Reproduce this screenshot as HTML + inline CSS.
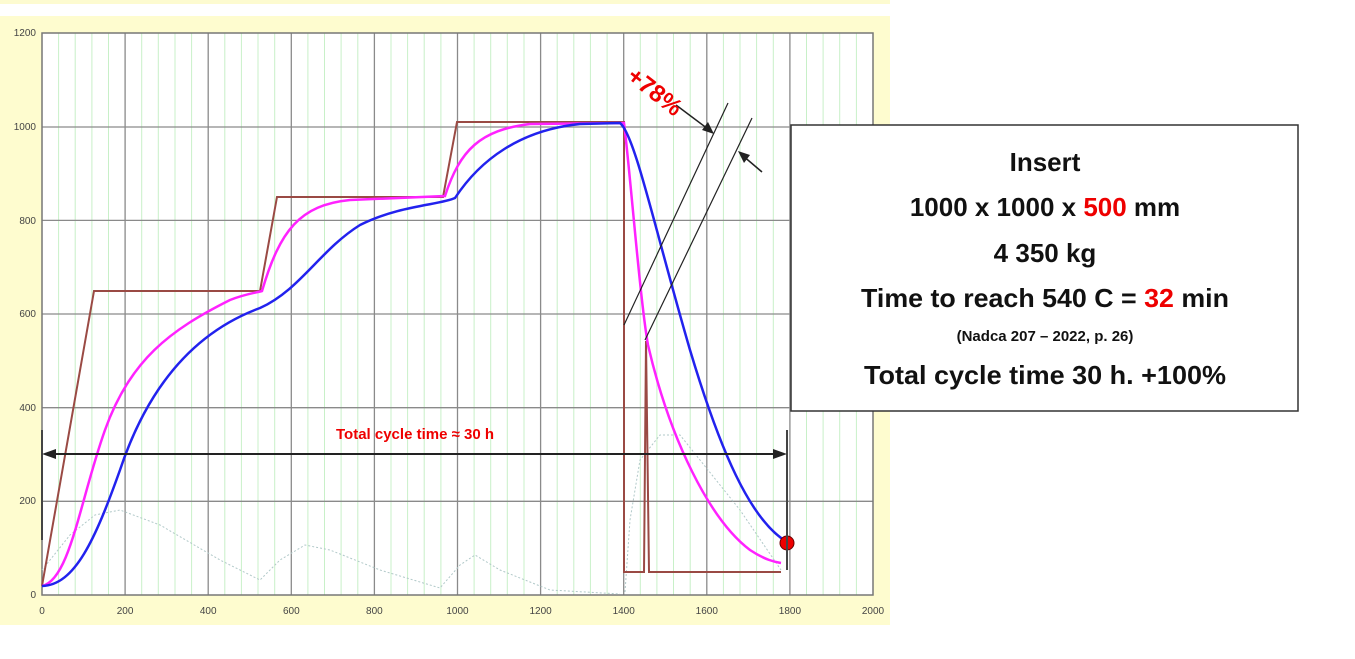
<!DOCTYPE html>
<html><head><meta charset="utf-8"><style>
body{margin:0;width:1355px;height:654px;background:#fff;overflow:hidden;font-family:"Liberation Sans",sans-serif}
</style></head><body>
<svg width="1355" height="654" xmlns="http://www.w3.org/2000/svg">
<rect x="0" y="0" width="890" height="4" fill="#fdfbd0"/>
<rect x="0" y="16" width="890" height="609" fill="#fefccf"/>
<rect x="42" y="33" width="831" height="562" fill="#fff"/>
<g stroke="#c8f0c8" stroke-width="1">
<line x1="58.6" y1="33" x2="58.6" y2="595"/><line x1="75.2" y1="33" x2="75.2" y2="595"/><line x1="91.9" y1="33" x2="91.9" y2="595"/><line x1="108.5" y1="33" x2="108.5" y2="595"/>
<line x1="141.7" y1="33" x2="141.7" y2="595"/><line x1="158.3" y1="33" x2="158.3" y2="595"/><line x1="175" y1="33" x2="175" y2="595"/><line x1="191.6" y1="33" x2="191.6" y2="595"/>
<line x1="224.8" y1="33" x2="224.8" y2="595"/><line x1="241.4" y1="33" x2="241.4" y2="595"/><line x1="258" y1="33" x2="258" y2="595"/><line x1="274.7" y1="33" x2="274.7" y2="595"/>
<line x1="307.9" y1="33" x2="307.9" y2="595"/><line x1="324.5" y1="33" x2="324.5" y2="595"/><line x1="341.1" y1="33" x2="341.1" y2="595"/><line x1="357.8" y1="33" x2="357.8" y2="595"/>
<line x1="391" y1="33" x2="391" y2="595"/><line x1="407.6" y1="33" x2="407.6" y2="595"/><line x1="424.2" y1="33" x2="424.2" y2="595"/><line x1="440.9" y1="33" x2="440.9" y2="595"/>
<line x1="474.1" y1="33" x2="474.1" y2="595"/><line x1="490.7" y1="33" x2="490.7" y2="595"/><line x1="507.3" y1="33" x2="507.3" y2="595"/><line x1="524" y1="33" x2="524" y2="595"/>
<line x1="557.2" y1="33" x2="557.2" y2="595"/><line x1="573.8" y1="33" x2="573.8" y2="595"/><line x1="590.4" y1="33" x2="590.4" y2="595"/><line x1="607.1" y1="33" x2="607.1" y2="595"/>
<line x1="640.3" y1="33" x2="640.3" y2="595"/><line x1="656.9" y1="33" x2="656.9" y2="595"/><line x1="673.5" y1="33" x2="673.5" y2="595"/><line x1="690.2" y1="33" x2="690.2" y2="595"/>
<line x1="723.4" y1="33" x2="723.4" y2="595"/><line x1="740" y1="33" x2="740" y2="595"/><line x1="756.6" y1="33" x2="756.6" y2="595"/><line x1="773.3" y1="33" x2="773.3" y2="595"/>
<line x1="806.5" y1="33" x2="806.5" y2="595"/><line x1="823.1" y1="33" x2="823.1" y2="595"/><line x1="839.7" y1="33" x2="839.7" y2="595"/><line x1="856.4" y1="33" x2="856.4" y2="595"/>
</g>
<g stroke="#8a8a8a" stroke-width="1.3">
<line x1="125.1" y1="33" x2="125.1" y2="595"/><line x1="208.2" y1="33" x2="208.2" y2="595"/><line x1="291.3" y1="33" x2="291.3" y2="595"/><line x1="374.4" y1="33" x2="374.4" y2="595"/><line x1="457.5" y1="33" x2="457.5" y2="595"/><line x1="540.6" y1="33" x2="540.6" y2="595"/><line x1="623.7" y1="33" x2="623.7" y2="595"/><line x1="706.8" y1="33" x2="706.8" y2="595"/><line x1="789.9" y1="33" x2="789.9" y2="595"/>
<line x1="42" y1="127" x2="873" y2="127"/><line x1="42" y1="220.4" x2="873" y2="220.4"/><line x1="42" y1="314" x2="873" y2="314"/><line x1="42" y1="407.7" x2="873" y2="407.7"/><line x1="42" y1="501.3" x2="873" y2="501.3"/>
</g>
<g font-size="10" fill="#444" text-anchor="end">
<text x="36" y="36">1200</text><text x="36" y="130">1000</text><text x="36" y="224">800</text><text x="36" y="317">600</text><text x="36" y="411">400</text><text x="36" y="504">200</text><text x="36" y="598">0</text>
</g>
<g font-size="10" fill="#444" text-anchor="middle">
<text x="42" y="614">0</text><text x="125.1" y="614">200</text><text x="208.2" y="614">400</text><text x="291.3" y="614">600</text><text x="374.4" y="614">800</text><text x="457.5" y="614">1000</text><text x="540.6" y="614">1200</text><text x="623.7" y="614">1400</text><text x="706.8" y="614">1600</text><text x="789.9" y="614">1800</text><text x="873" y="614">2000</text>
</g>
<rect x="42" y="33" width="831" height="562" fill="none" stroke="#777" stroke-width="1.5"/>
<polyline fill="none" stroke="#b0c8c8" stroke-width="1" stroke-dasharray="2,2" points="42,570 70,535 95,515 120,510 160,525 220,560 260,580 280,560 305,545 330,550 380,570 440,588 460,565 475,555 500,570 550,590 620,594"/>
<polyline fill="none" stroke="#b0c8c8" stroke-width="1" stroke-dasharray="2,2" points="625,592 630,520 640,460 660,435 680,435 700,460 740,510 781,570"/>
<polyline fill="none" stroke="#9a4a44" stroke-width="2" points="42,586 94,291 260,291 277,197 443,197 457,122 624,122 624,572 644,572 646,341 649,572 781,572"/>
<path fill="none" stroke="#ff22ff" stroke-width="2.5" d="M42,586 C70,580 80,500 105,430 C130,360 170,330 230,300 C245,294 255,293 262,291 C280,230 300,205 350,200 L445,196 C460,150 480,130 530,124 L624,123 C630,170 640,300 648,345 C670,440 710,520 750,550 C765,560 775,562 781,563"/>
<path fill="none" stroke="#2222ee" stroke-width="2.5" d="M42,586 C75,585 95,540 120,470 C150,380 200,330 260,308 C300,290 320,250 360,225 C400,205 440,205 455,198 C480,160 520,130 580,124 L620,123 C635,135 655,230 690,350 C720,450 750,520 787,542"/>
<circle cx="787" cy="543" r="7" fill="#e00" stroke="#600" stroke-width="1"/>
<line x1="787" y1="430" x2="787" y2="570" stroke="#444" stroke-width="2"/>
<line x1="42" y1="430" x2="42" y2="540" stroke="#444" stroke-width="2"/>
<line x1="50" y1="454" x2="779" y2="454" stroke="#222" stroke-width="2"/>
<polygon points="42,454 56,449 56,459" fill="#222"/>
<polygon points="787,454 773,449 773,459" fill="#222"/>
<text x="415" y="439" font-size="15" font-weight="bold" fill="#e00" text-anchor="middle">Total cycle time ≈  30 h</text>
<line x1="624" y1="325" x2="728" y2="103" stroke="#222" stroke-width="1.2"/>
<line x1="645" y1="340" x2="752" y2="118" stroke="#222" stroke-width="1.2"/>
<line x1="676" y1="105" x2="712" y2="132" stroke="#222" stroke-width="1.5"/>
<polygon points="714,134 702,130 708,122" fill="#222"/>
<line x1="762" y1="172" x2="742" y2="155" stroke="#222" stroke-width="1.5"/>
<polygon points="738,151 750,155 744,163" fill="#222"/>
<text x="650" y="98" font-size="24" font-weight="bold" fill="#e00" text-anchor="middle" transform="rotate(38 650 98)">+78%</text>
<rect x="791" y="125" width="507" height="286" fill="#fff" stroke="#333" stroke-width="1.5"/>
<g font-weight="bold" text-anchor="middle" fill="#111" font-size="26">
<text x="1045" y="171">Insert</text>
<text x="1045" y="216">1000 x 1000 x <tspan fill="#e00">500</tspan> mm</text>
<text x="1045" y="262">4 350 kg</text>
<text x="1045" y="307" textLength="368" lengthAdjust="spacingAndGlyphs">Time to reach 540 C = <tspan fill="#e00">32</tspan> min</text>
<text x="1045" y="341" font-size="15">(Nadca 207 – 2022, p. 26)</text>
<text x="1045" y="384" textLength="362" lengthAdjust="spacingAndGlyphs">Total cycle time 30 h. +100%</text>
</g>
</svg>
</body></html>
